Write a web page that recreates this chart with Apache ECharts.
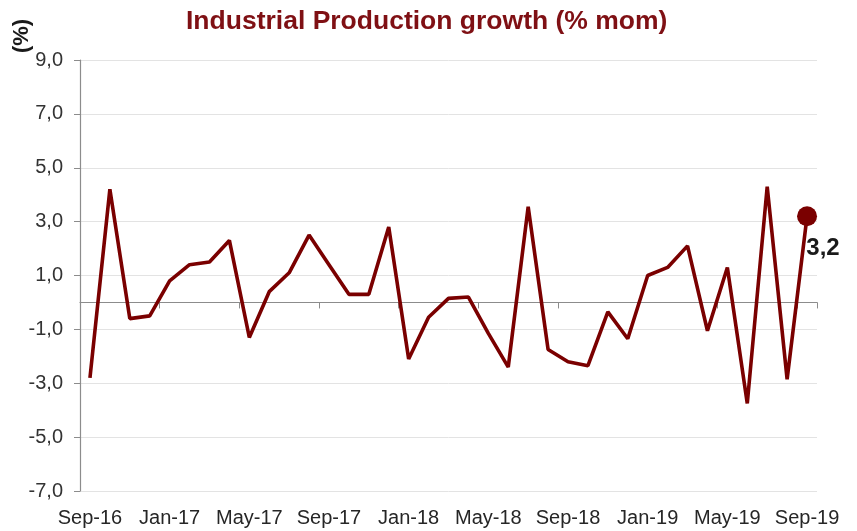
<!DOCTYPE html>
<html>
<head>
<meta charset="utf-8">
<script src="https://cdn.jsdelivr.net/npm/echarts@6/dist/echarts.min.js"></script>
<style>
html,body{margin:0;padding:0;background:#fff;}
#chart{width:857px;height:531px;}
</style>
</head>
<body>
<div id="chart"></div>
<script>
const categories = ['Sep-16','Oct-16','Nov-16','Dec-16','Jan-17','Feb-17','Mar-17','Apr-17','May-17','Jun-17','Jul-17','Aug-17',
  'Sep-17','Oct-17','Nov-17','Dec-17','Jan-18','Feb-18','Mar-18','Apr-18','May-18','Jun-18','Jul-18','Aug-18',
  'Sep-18','Oct-18','Nov-18','Dec-18','Jan-19','Feb-19','Mar-19','Apr-19','May-19','Jun-19','Jul-19','Aug-19','Sep-19'];
const ipGrowth = [-2.8, 4.2, -0.6, -0.5, 0.8, 1.4, 1.5, 2.3, -1.3, 0.4, 1.1, 2.5,
  1.4, 0.3, 0.3, 2.8, -2.1, -0.55, 0.15, 0.2, -1.15, -2.4, 3.55, -1.75,
  -2.2, -2.35, -0.35, -1.35, 1.0, 1.3, 2.1, -1.05, 1.3, -3.75, 4.3, -2.85, 3.2];
const yTicks = {min: -7, max: 9, interval: 2};
const titleText = 'Industrial Production growth (% mom)';
const yUnit = '(%)';

const fmt = v => v.toFixed(1).replace('.', ',');
const lineColor = '#7a0000';
const lastIdx = ipGrowth.length - 1;
const seriesData = ipGrowth.map((v, i) => i === lastIdx ? {
  value: v, symbol: 'circle', symbolSize: 20,
  itemStyle: {color: lineColor},
  label: {show: true, position: 'bottom', offset: [16, 5], formatter: p => fmt(p.value),
    fontFamily: 'Liberation Sans', fontWeight: 'bold', fontSize: 24, color: '#1a1a1a'}
} : v);

const chart = echarts.init(document.getElementById('chart'), null, {renderer: 'canvas'});
chart.setOption({
  animation: false,
  backgroundColor: '#ffffff',
  title: {
    text: titleText, left: 181, top: 3,
    textStyle: {fontFamily: 'Liberation Sans', fontWeight: 'bold', fontSize: 26.5, color: '#7f1014'}
  },
  graphic: [{
    type: 'text', x: 22, y: 36, rotation: Math.PI / 2,
    style: {text: yUnit, fontFamily: 'Liberation Sans', fontWeight: 'bold', fontSize: 22, fill: '#1a1a1a',
      textAlign: 'center', textVerticalAlign: 'middle'}
  }],
  grid: {left: 80, right: 40, top: 60, bottom: 40, containLabel: false},
  xAxis: [{
    type: 'category', data: categories, boundaryGap: true, position: 'bottom',
    axisLine: {show: false, onZero: false},
    axisTick: {show: false},
    axisLabel: {interval: 3, margin: 17, fontFamily: 'Liberation Sans', fontSize: 20, color: '#262626'},
    splitLine: {show: false}
  }, {
    type: 'category', data: categories, boundaryGap: true, position: 'bottom',
    axisLine: {show: true, onZero: true, lineStyle: {color: '#8c8c8c', width: 1.2}},
    axisTick: {show: true, interval: 3, length: 6, lineStyle: {color: '#8c8c8c'}},
    axisLabel: {show: false},
    splitLine: {show: false}
  }],
  yAxis: {
    type: 'value', min: yTicks.min, max: yTicks.max, interval: yTicks.interval,
    axisLine: {show: true, lineStyle: {color: '#8c8c8c', width: 1.2}},
    axisTick: {show: true, length: 6, lineStyle: {color: '#8c8c8c'}},
    axisLabel: {formatter: fmt, margin: 17, fontFamily: 'Liberation Sans', fontSize: 20, color: '#333333'},
    splitLine: {show: true, lineStyle: {color: '#e3e3e3', width: 1}}
  },
  series: [{
    type: 'line', data: seriesData, xAxisIndex: 0, yAxisIndex: 0,
    symbol: 'none', showSymbol: true,
    lineStyle: {color: lineColor, width: 3.6},
    itemStyle: {color: lineColor},
    z: 5
  }]
});
</script>
</body>
</html>
